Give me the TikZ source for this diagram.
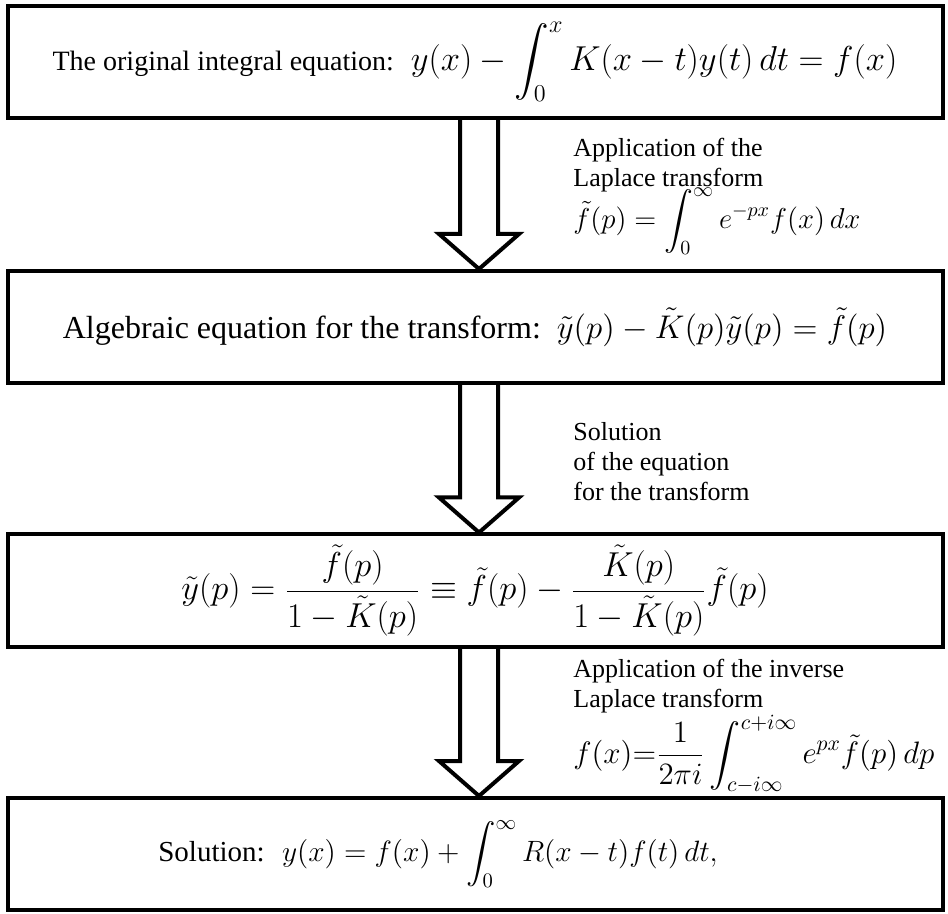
\RequirePackage{fix-cm}
\documentclass[tikz,border=0pt]{standalone}
\usepackage{amssymb}
\usepackage{mathtools}
\usepackage[no-math]{fontspec}
\setmainfont{Liberation Serif}
\usetikzlibrary{calc}

% formulas of the boxes and of the labels, at a given size
\newcommand{\bmath}[2][17.3]{{\fontsize{#1}{19}\selectfont$\displaystyle #2$}}
\newcommand{\lmath}[2][14.4]{{\fontsize{#1}{16}\selectfont$\displaystyle #2$}}

\tikzset{
  etape/.style={draw, line width=2pt, rectangle, minimum width=467.5pt,
    minimum height=56pt, inner sep=0pt, font=\fontsize{14.5}{17}\selectfont},
  legende/.style={anchor=north west, align=left, inner sep=0pt,
    font=\fontsize{13}{15}\selectfont},
  fleche/.style={line width=2pt, line join=miter}
}

% hollow arrow from the box #1 down to the box #2
\newcommand{\fleche}[2]{%
  \draw[fleche] ($(#1.south)+(-15,0)$) -- ($(#2.north)+(-15,-35)$)
    -- ($(#2.north)+(-36,-35)$) -- ($(#2.north)+(4,0)$)
    -- ($(#2.north)+(44,-35)$) -- ($(#2.north)+(23,-35)$)
    -- ($(#1.south)+(23,0)$);}

\begin{document}
\begin{tikzpicture}[x=0.5pt, y=-0.5pt]
		\useasboundingbox (0,0) rectangle (948,914);
		%Boxes of the scheme
		\node[etape, font=\fontsize{14}{17}\selectfont] (E1) at (475,62) {The original integral equation:\hspace{0.6em}\bmath{y(x)-\int_0^x K(x-t)y(t)\,dt=f(x)}};
		\node[etape, font=\fontsize{16}{19}\selectfont] (E2) at (475,327) {Algebraic equation for the transform:\hspace{0.5em}\bmath[16.4]{\tilde y(p)-\tilde K(p)\tilde y(p)=\tilde f(p)}};
		\node[etape] (E3) at (475,590.5) {\bmath{\tilde y(p)=\frac{\tilde f(p)}{1-\tilde K(p)}\equiv\tilde f(p)-\frac{\tilde K(p)}{1-\tilde K(p)}\tilde f(p)}};
		\node[etape] (E4) at (475,854) {Solution:\hspace{0.6em}\bmath[14.7]{y(x)=f(x)+\int_0^\infty R(x-t)f(t)\,dt,}\rule{37pt}{0pt}};
		%Arrows between the boxes
		\fleche{E1}{E2}
		\fleche{E2}{E3}
		\fleche{E3}{E4}
		%Labels of the arrows
		\node[legende] (L1) at (573,138) {Application of the\\Laplace transform\\[-3pt]\lmath{\tilde f(p)=\int_0^\infty e^{-px}f(x)\,dx}};
		\node[legende] (L2) at (573,422) {Solution\\of the equation\\for the transform};
		\node[legende] (L3) at (573,659) {Application of the inverse\\Laplace transform\\[0pt]\lmath[15.5]{f(x){=}\frac{1}{2\pi i}\int_{c-i\infty}^{c+i\infty}e^{px}\tilde f(p)\,dp}};
	\end{tikzpicture}
\end{document}
